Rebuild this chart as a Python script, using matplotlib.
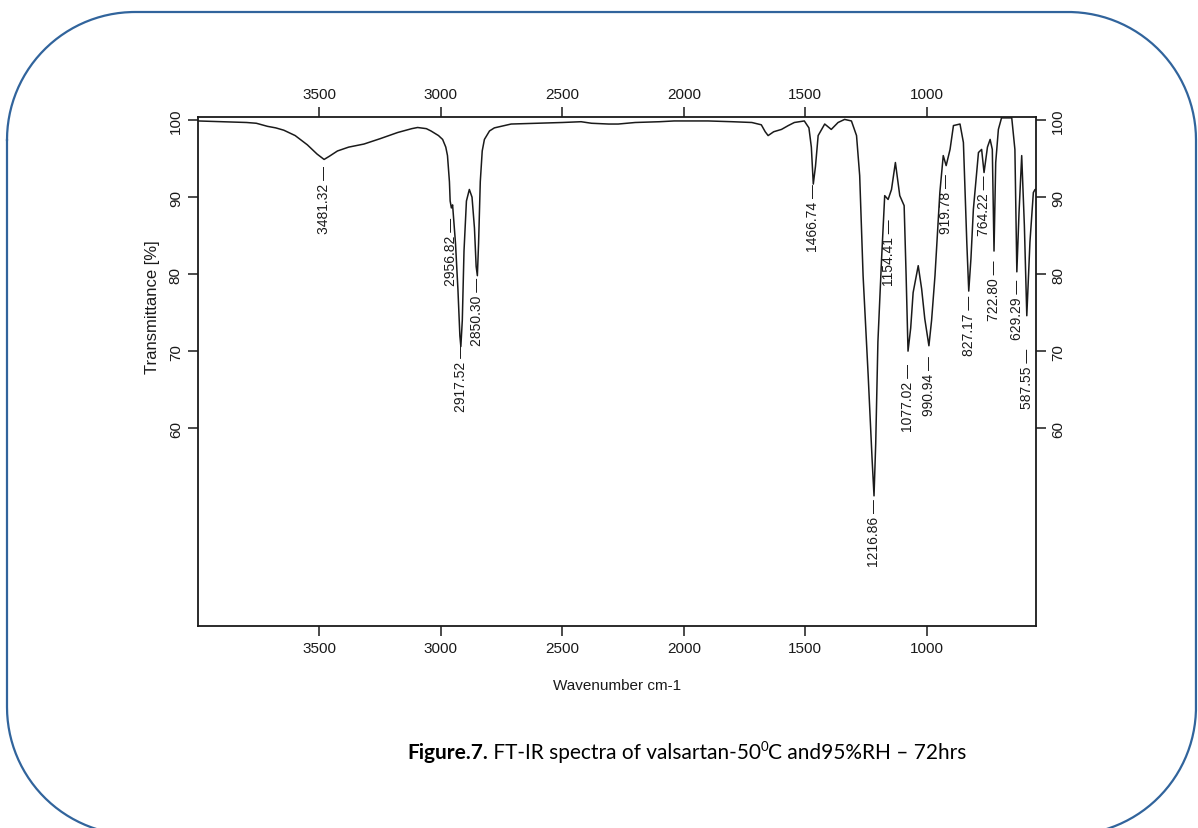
import numpy as np
import matplotlib
matplotlib.use("Agg")
import matplotlib.pyplot as plt

# spectrum (wavenumber cm-1, transmittance %)
wavenumber = [4000, 3900, 3800, 3760, 3714, 3680, 3647, 3600, 3550, 3510,
              3481, 3460, 3426, 3380, 3317, 3250, 3178, 3120, 3096, 3060,
              3041, 3010, 2993, 2980, 2973, 2965, 2962, 2957, 2952, 2940,
              2930, 2922, 2918, 2912, 2905, 2895, 2883, 2872, 2862, 2855,
              2850, 2845, 2838, 2830, 2821, 2800, 2780, 2711, 2600, 2500,
              2423, 2380, 2310, 2270, 2200, 2100, 2040, 1900, 1800, 1720,
              1681, 1665, 1653, 1630, 1598, 1570, 1545, 1504, 1485, 1475,
              1467, 1458, 1447, 1420, 1393, 1365, 1338, 1310, 1289, 1276,
              1262, 1241, 1225, 1217, 1210, 1201, 1186, 1173, 1159, 1145,
              1129, 1111, 1093, 1085, 1077, 1066, 1056, 1035, 1021, 1008,
              991, 980, 966, 946, 932, 920, 904, 890, 863, 849,
              835, 827, 818, 808, 787, 774, 764, 750, 739, 730,
              723, 716, 705, 692, 650, 637, 629, 620, 609, 598,
              588, 575, 561, 554, 550]
transmittance = [99.9, 99.8, 99.7, 99.6, 99.2, 99.0, 98.7, 98.0, 96.8, 95.6,
                 94.9, 95.3, 96.0, 96.5, 96.9, 97.6, 98.4, 98.9, 99.05, 98.9,
                 98.6, 98.0, 97.5, 96.5, 95.4, 92.0, 89.5, 88.6, 89.0, 84.0,
                 78.0, 72.0, 70.6, 74.0, 83.0, 89.5, 91.0, 90.0, 86.0, 81.0,
                 79.8, 84.0, 92.0, 96.0, 97.5, 98.6, 99.0, 99.5, 99.6, 99.7,
                 99.8, 99.6, 99.5, 99.5, 99.7, 99.8, 99.9, 99.9, 99.8, 99.7,
                 99.4, 98.5, 98.0, 98.5, 98.8, 99.3, 99.7, 99.9, 99.0, 96.5,
                 91.7, 94.0, 98.0, 99.5, 98.8, 99.7, 100.1, 99.9, 98.0, 92.8,
                 79.8, 66.8, 56.0, 51.2, 58.0, 71.2, 81.9, 90.2, 89.7, 91.0,
                 94.5, 90.2, 88.9, 80.0, 70.0, 73.0, 77.6, 81.1, 78.1, 74.2,
                 70.7, 74.0, 79.8, 90.6, 95.4, 94.1, 96.2, 99.3, 99.5, 97.1,
                 84.1, 77.8, 82.0, 88.4, 95.8, 96.2, 93.2, 96.5, 97.5, 96.2,
                 83.0, 94.5, 98.8, 100.3, 100.3, 96.2, 80.3, 88.0, 95.4, 86.3,
                 74.6, 84.2, 90.6, 91.0, 91.0]

# peak labels and the transmittance where each label starts
peak_wn = [3481.32, 2956.82, 2917.52, 2850.30, 1466.74, 1216.86, 1154.41,
           1077.02, 990.94, 919.78, 827.17, 764.22, 722.80, 629.29, 587.55]
peak_label_t = [94.2, 87.4, 71.0, 79.7, 91.8, 50.9, 87.3,
                68.4, 69.5, 93.1, 77.3, 92.9, 81.9, 79.4, 70.5]

x_ticks = [3500, 3000, 2500, 2000, 1500, 1000]
y_ticks = [60, 70, 80, 90, 100]

plt.rcParams['font.family'] = ['Liberation Sans', 'DejaVu Sans']

fig = plt.figure(figsize=(11.98, 8.29), dpi=100)

# rounded blue frame, drawn in pixel units
bg = fig.add_axes([0, 0, 1, 1], zorder=-1)
bg.set_xlim(0, 1198)
bg.set_ylim(829, 0)
bg.axis('off')
x0, x1, y0, y1, rad = 7, 1196, 13, 836, 128
corners = [(x0 + rad, y0 + rad, 180, 270), (x1 - rad, y0 + rad, 270, 360),
           (x1 - rad, y1 - rad, 0, 90), (x0 + rad, y1 - rad, 90, 180)]
px, py = [], []
for cx, cy, a0, a1 in corners:
    th = np.radians(np.linspace(a0, a1, 60))
    px.extend(cx + rad * np.cos(th))
    py.extend(cy + rad * np.sin(th))
px.append(px[0])
py.append(py[0])
bg.plot(px, py, color='#31649c', lw=1.6, clip_on=False)

ax = fig.add_axes([0.1653, 0.2437, 0.6995, 0.6143])
ax.plot(wavenumber, transmittance, color='#1a1a1a', lw=1.1)
ax.set_xlim(4000, 550)
ax.set_ylim(34.3, 100.45)

for w, t in zip(peak_wn, peak_label_t):
    ax.text(w, t, "%.2f \u2014" % w, rotation=90, ha='center', va='top',
            fontsize=10, color='#1a1a1a')

ax.set_xticks(x_ticks)
ax.set_yticks(y_ticks)
ax.tick_params(axis='both', direction='out', length=7, width=1.1,
               labelsize=11, colors='#1a1a1a', pad=4)
ax.tick_params(top=True, labeltop=True, right=True, labelright=True)
for lab in ax.get_yticklabels():
    lab.set_rotation(90)
    lab.set_va('center')
for sp in ax.spines.values():
    sp.set_linewidth(1.3)
    sp.set_color('#1a1a1a')

fig.text(617 / 1198, 1 - 686 / 829, "Wavenumber cm-1", ha='center',
         va='center', fontsize=11, color='#1a1a1a')
fig.text(152 / 1198, 1 - 307 / 829, "Transmittance [%]", ha='center',
         va='center', rotation=90, fontsize=12, color='#1a1a1a')

# caption: bold part, normal part, superscript
cap_y = 1 - 752 / 829
fig.canvas.draw()
r = fig.canvas.get_renderer()
parts = [("Figure.7.", 'bold', 15, 0), (" FT-IR spectra of valsartan-50", 'normal', 15, 0),
         ("0", 'normal', 9.5, 8), ("C and95%RH \u2013 72hrs", 'normal', 15, 0)]
texts = []
x = 0
for s, wgt, fs, dy in parts:
    t = fig.text(0, 0, s, fontsize=fs, fontweight=wgt, family='Lato',
                 color='black', va='baseline', ha='left')
    w = t.get_window_extent(r).width
    texts.append((t, x, dy))
    x += w
left = 687 - x / 2
for t, xo, dy in texts:
    t.set_position(((left + xo) / 1198, cap_y - 7 / 829 + dy / 829))

fig.savefig("out.png", dpi=100)
